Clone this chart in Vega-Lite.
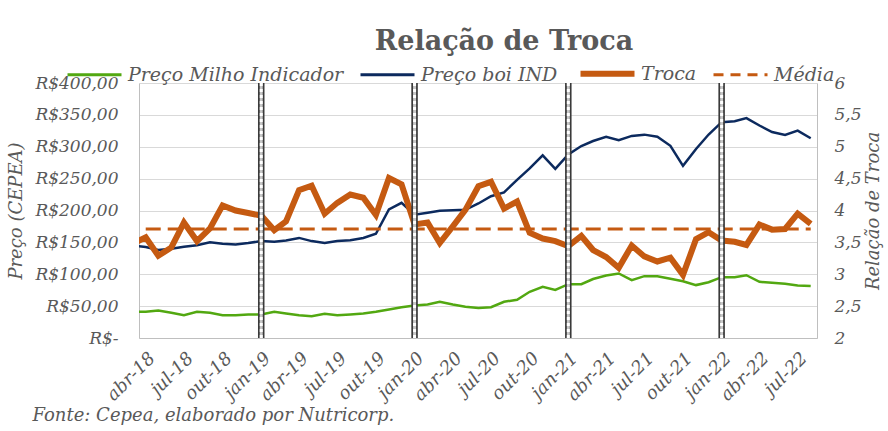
{
  "$schema": "https://vega.github.io/schema/vega-lite/v6.json",
  "width": 678,
  "height": 255,
  "autosize": {"type": "none"},
  "padding": {"left": 139, "top": 83, "right": 71, "bottom": 93},
  "background": "white",
  "config": {
    "font": "DejaVu Serif",
    "view": {"stroke": null},
    "axis": {
      "labelFont": "DejaVu Serif",
      "labelFontStyle": "italic",
      "labelFontSize": 17,
      "labelColor": "#595959",
      "titleFont": "DejaVu Serif",
      "titleFontStyle": "italic",
      "titleFontWeight": "normal",
      "titleFontSize": 18,
      "titleColor": "#595959",
      "domainColor": "#bfbfbf",
      "domainWidth": 1,
      "ticks": false,
      "labelFlush": false,
      "labelOverlap": false,
      "labelBound": false
    }
  },
  "title": {
    "text": "Relação de Troca",
    "font": "DejaVu Serif",
    "fontSize": 27,
    "fontWeight": "bold",
    "color": "#595959",
    "anchor": "middle",
    "frame": "group",
    "baseline": "alphabetic",
    "dx": 26,
    "dy": 47,
    "offset": 34
  },
  "data": {
    "values": [
      {"date": "2018-03-01", "milho": 41, "boi": 145, "troca": 3.48, "media": null},
      {"date": "2018-04-01", "milho": 41.1, "boi": 142.7, "troca": 3.58, "media": 3.71},
      {"date": "2018-05-01", "milho": 43.1, "boi": 138, "troca": 3.29, "media": 3.71},
      {"date": "2018-06-01", "milho": 39.5, "boi": 140, "troca": 3.42, "media": 3.71},
      {"date": "2018-07-01", "milho": 35.8, "boi": 143, "troca": 3.81, "media": 3.71},
      {"date": "2018-08-01", "milho": 41.1, "boi": 145.6, "troca": 3.52, "media": 3.71},
      {"date": "2018-09-01", "milho": 39.5, "boi": 150, "troca": 3.72, "media": 3.71},
      {"date": "2018-10-01", "milho": 35.8, "boi": 148, "troca": 4.08, "media": 3.71},
      {"date": "2018-11-01", "milho": 35.8, "boi": 146.7, "troca": 4.0, "media": 3.71},
      {"date": "2018-12-01", "milho": 36.9, "boi": 149, "troca": 3.96, "media": 3.71},
      {"date": "2019-01-01", "milho": 36.9, "boi": 152, "troca": 3.92, "media": 3.71},
      {"date": "2019-02-01", "milho": 41.1, "boi": 151, "troca": 3.69, "media": 3.71},
      {"date": "2019-03-01", "milho": 38.4, "boi": 153, "troca": 3.83, "media": 3.71},
      {"date": "2019-04-01", "milho": 35.8, "boi": 157, "troca": 4.32, "media": 3.71},
      {"date": "2019-05-01", "milho": 34.2, "boi": 152, "troca": 4.39, "media": 3.71},
      {"date": "2019-06-01", "milho": 38, "boi": 149, "troca": 3.95, "media": 3.71},
      {"date": "2019-07-01", "milho": 35.8, "boi": 152, "troca": 4.12, "media": 3.71},
      {"date": "2019-08-01", "milho": 36.9, "boi": 153.4, "troca": 4.25, "media": 3.71},
      {"date": "2019-09-01", "milho": 38.4, "boi": 157, "troca": 4.2, "media": 3.71},
      {"date": "2019-10-01", "milho": 41.1, "boi": 163.5, "troca": 3.93, "media": 3.71},
      {"date": "2019-11-01", "milho": 44.7, "boi": 201.6, "troca": 4.51, "media": 3.71},
      {"date": "2019-12-01", "milho": 48.3, "boi": 212, "troca": 4.41, "media": 3.71},
      {"date": "2020-01-01", "milho": 51, "boi": 193.5, "troca": 3.78, "media": 3.71},
      {"date": "2020-02-01", "milho": 52.5, "boi": 196.4, "troca": 3.81, "media": 3.71},
      {"date": "2020-03-01", "milho": 57, "boi": 199.5, "troca": 3.49, "media": 3.71},
      {"date": "2020-04-01", "milho": 52.5, "boi": 200.5, "troca": 3.75, "media": 3.71},
      {"date": "2020-05-01", "milho": 49, "boi": 201, "troca": 4.01, "media": 3.71},
      {"date": "2020-06-01", "milho": 47, "boi": 211, "troca": 4.38, "media": 3.71},
      {"date": "2020-07-01", "milho": 48.3, "boi": 222.4, "troca": 4.45, "media": 3.71},
      {"date": "2020-08-01", "milho": 56.8, "boi": 228.5, "troca": 4.03, "media": 3.71},
      {"date": "2020-09-01", "milho": 60, "boi": 248, "troca": 4.14, "media": 3.71},
      {"date": "2020-10-01", "milho": 72.5, "boi": 266, "troca": 3.65, "media": 3.71},
      {"date": "2020-11-01", "milho": 80.3, "boi": 286.5, "troca": 3.56, "media": 3.71},
      {"date": "2020-12-01", "milho": 75.5, "boi": 265.4, "troca": 3.52, "media": 3.71},
      {"date": "2021-01-01", "milho": 84.4, "boi": 288, "troca": 3.44, "media": 3.71},
      {"date": "2021-02-01", "milho": 84.4, "boi": 301.2, "troca": 3.6, "media": 3.71},
      {"date": "2021-03-01", "milho": 92.5, "boi": 309, "troca": 3.38, "media": 3.71},
      {"date": "2021-04-01", "milho": 98, "boi": 315.6, "troca": 3.27, "media": 3.71},
      {"date": "2021-05-01", "milho": 101.2, "boi": 310.3, "troca": 3.1, "media": 3.71},
      {"date": "2021-06-01", "milho": 90.7, "boi": 317, "troca": 3.45, "media": 3.71},
      {"date": "2021-07-01", "milho": 97, "boi": 319, "troca": 3.28, "media": 3.71},
      {"date": "2021-08-01", "milho": 97, "boi": 315.6, "troca": 3.2, "media": 3.71},
      {"date": "2021-09-01", "milho": 92.9, "boi": 301.5, "troca": 3.26, "media": 3.71},
      {"date": "2021-10-01", "milho": 89.1, "boi": 270, "troca": 2.99, "media": 3.71},
      {"date": "2021-11-01", "milho": 83, "boi": 296.5, "troca": 3.55, "media": 3.71},
      {"date": "2021-12-01", "milho": 87.5, "boi": 319.2, "troca": 3.66, "media": 3.71},
      {"date": "2022-01-01", "milho": 95.4, "boi": 338.5, "troca": 3.53, "media": 3.71},
      {"date": "2022-02-01", "milho": 95.4, "boi": 340, "troca": 3.51, "media": 3.71},
      {"date": "2022-03-01", "milho": 98.5, "boi": 345, "troca": 3.46, "media": 3.71},
      {"date": "2022-04-01", "milho": 88.2, "boi": 333.3, "troca": 3.78, "media": 3.71},
      {"date": "2022-05-01", "milho": 86.6, "boi": 323, "troca": 3.7, "media": 3.71},
      {"date": "2022-06-01", "milho": 85, "boi": 318.4, "troca": 3.71, "media": 3.71},
      {"date": "2022-07-01", "milho": 82.4, "boi": 325.2, "troca": 3.95, "media": 3.71},
      {"date": "2022-08-01", "milho": 81.5, "boi": 313.3, "troca": 3.79, "media": 3.71}
    ]
  },
  "encoding": {
    "x": {
      "field": "date",
      "type": "temporal",
      "scale": {
        "type": "utc",
        "domain": [
          {"year": 2018, "month": 3, "date": 16, "utc": true},
          {"year": 2022, "month": 8, "date": 16, "utc": true}
        ]
      },
      "axis": {
        "tickCount": {"interval": "month", "step": 3},
        "labelExpr": "['jan','fev','mar','abr','mai','jun','jul','ago','set','out','nov','dez'][utcmonth(datum.value)] + '-' + utcFormat(datum.value, '%y')",
        "labelAngle": -45,
        "labelFontSize": 18,
        "labelPadding": 11,
        "grid": false,
        "title": "Fonte: Cepea, elaborado por Nutricorp.",
        "titleAnchor": "start",
        "titleAlign": "left",
        "titleBaseline": "alphabetic",
        "titleX": -107,
        "titleY": 82
      }
    }
  },
  "layer": [
    {
      "layer": [
        {
          "mark": {"type": "line", "strokeWidth": 2.5, "clip": true},
          "encoding": {
            "y": {
              "field": "milho",
              "type": "quantitative",
              "scale": {"domain": [0, 400]},
              "axis": {
                "orient": "left",
                "values": [0, 50, 100, 150, 200, 250, 300, 350, 400],
                "labelExpr": "datum.value == 0 ? 'R$-\u00a0\u00a0' : 'R$' + replace(format(datum.value, '.2f'), '.', ',')",
                "labelPadding": 21,
                "grid": true,
                "gridColor": "#d9d9d9",
                "gridWidth": 1,
                "title": "Preço  (CEPEA)",
                "titlePadding": 9
              }
            },
            "color": {
              "datum": "Preço Milho Indicador",
              "scale": {
                "domain": ["Preço Milho Indicador", "Preço boi IND", "Troca", "Média"],
                "range": ["#52a811", "#0c2a5e", "#c55a11", "#c55a11"]
              },
              "legend": {
                "orient": "none",
                "legendX": -54,
                "legendY": -19,
                "direction": "horizontal",
                "title": null,
                "symbolType": "stroke",
                "symbolSize": 2916,
                "symbolStrokeWidth": 3,
                "labelFont": "DejaVu Serif",
                "labelFontStyle": "italic",
                "labelFontSize": 19,
                "labelColor": "#595959",
                "labelLimit": 400,
                "labelOffset": 24,
                "columnPadding": 10,
                "encode": {
                  "symbols": {
                    "update": {
                      "strokeDash": {"signal": "datum.value === 'Média' ? [10, 7] : [1, 0]"},
                      "strokeWidth": {"signal": "datum.value === 'Troca' ? 6 : 3"}
                    }
                  }
                }
              }
            }
          }
        },
        {
          "mark": {"type": "line", "strokeWidth": 2.5, "clip": true},
          "encoding": {
            "y": {
              "field": "boi",
              "type": "quantitative",
              "scale": {"domain": [0, 400]},
              "axis": {
                "orient": "left",
                "values": [0, 50, 100, 150, 200, 250, 300, 350, 400],
                "labelExpr": "datum.value == 0 ? 'R$-\u00a0\u00a0' : 'R$' + replace(format(datum.value, '.2f'), '.', ',')",
                "labelPadding": 21,
                "grid": true,
                "gridColor": "#d9d9d9",
                "gridWidth": 1,
                "title": "Preço  (CEPEA)",
                "titlePadding": 9
              }
            },
            "color": {"datum": "Preço boi IND"}
          }
        }
      ]
    },
    {
      "layer": [
        {
          "mark": {"type": "line", "strokeWidth": 6, "clip": true, "strokeJoin": "miter"},
          "encoding": {
            "y": {
              "field": "troca",
              "type": "quantitative",
              "scale": {"domain": [2, 6]},
              "axis": {
                "orient": "right",
                "values": [2, 2.5, 3, 3.5, 4, 4.5, 5, 5.5, 6],
                "labelExpr": "replace(toString(datum.value), '.', ',')",
                "labelAlign": "left",
                "labelPadding": 17,
                "grid": false,
                "title": "Relação de Troca",
                "titleAngle": -90,
                "titleBaseline": "top",
                "titlePadding": 3
              }
            },
            "color": {"datum": "Troca"}
          }
        },
        {
          "mark": {"type": "line", "strokeWidth": 3, "strokeDash": [15, 7], "clip": true},
          "encoding": {
            "y": {
              "field": "media",
              "type": "quantitative",
              "scale": {"domain": [2, 6]},
              "axis": {
                "orient": "right",
                "values": [2, 2.5, 3, 3.5, 4, 4.5, 5, 5.5, 6],
                "labelExpr": "replace(toString(datum.value), '.', ',')",
                "labelAlign": "left",
                "labelPadding": 17,
                "grid": false,
                "title": "Relação de Troca",
                "titleAngle": -90,
                "titleBaseline": "top",
                "titlePadding": 3
              }
            },
            "color": {"datum": "Média"}
          }
        }
      ]
    },
    {
      "data": {
        "values": [
          {"date": "2019-01-01"},
          {"date": "2020-01-01"},
          {"date": "2021-01-01"},
          {"date": "2022-01-01"}
        ]
      },
      "layer": [
        {"mark": {"type": "rule", "strokeWidth": 6.5, "color": "#3a3a3a"}, "encoding": {}},
        {"mark": {"type": "rule", "strokeWidth": 3, "color": "#c8c8c8"}, "encoding": {}},
        {"mark": {"type": "rule", "strokeWidth": 3, "color": "#ffffff", "strokeDash": [3, 3]}, "encoding": {}}
      ]
    }
  ],
  "resolve": {"scale": {"y": "independent"}}
}
